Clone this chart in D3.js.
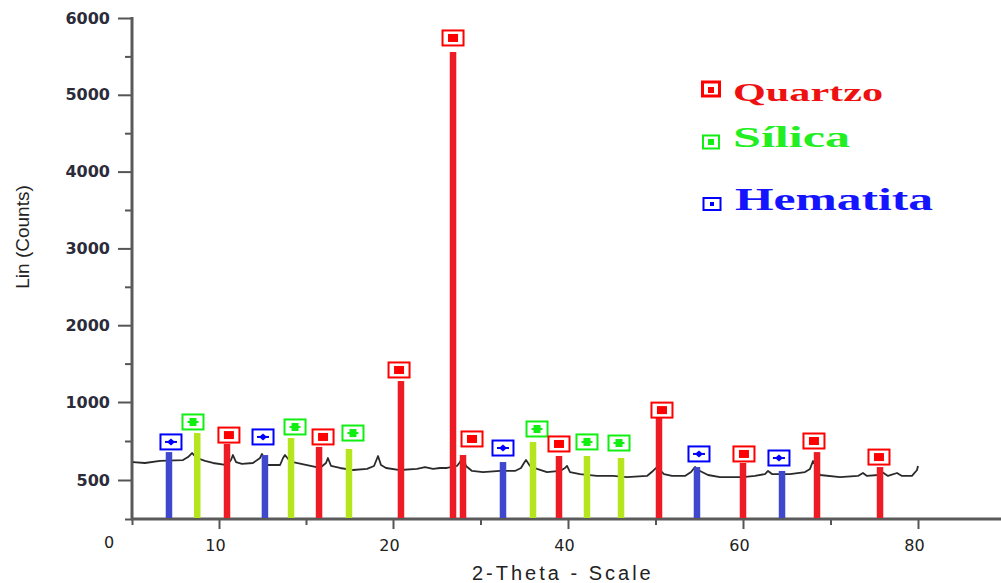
<!DOCTYPE html>
<html>
<head>
<meta charset="utf-8">
<script src="https://cdn.jsdelivr.net/npm/d3@7"></script>
<style>
  html, body { margin: 0; padding: 0; background: #fff; }
  svg { display: block; }
</style>
</head>
<body>
<svg id="chart" width="1001" height="583"></svg>
<script>
// phases found in the sample
var phases = ['Quartzo', 'Sílica', 'Hematita'];

// reference lines (2-theta, counts, phase index)
var peakTheta  = [4.25, 7.5, 10.46, 12.64, 14.14, 15.75, 17.47, 20.91, 26.86, 28.0, 32.57,
                  36.0, 38.97, 42.17, 46.06, 50.4, 54.74, 60.0, 64.46, 68.46, 75.66];
var peakCounts = [679, 801, 731, 660, 769, 712, 699, 1273, 5557, 660, 615,
                  744, 654, 654, 641, 917, 583, 609, 558, 679, 583];
var peakPhase  = [2, 1, 0, 2, 1, 0, 1, 0, 0, 0, 2,
                  1, 0, 1, 1, 0, 2, 0, 2, 0, 0];

// where each phase symbol sits
var markTheta  = [4.48, 7.01, 10.57, 12.53, 14.37, 15.98, 17.70, 20.69, 26.86, 29.03, 32.57,
                  36.46, 38.97, 42.17, 45.83, 50.74, 54.97, 60.11, 64.11, 68.11, 75.54];
var markCounts = [744, 872, 788, 776, 840, 776, 801, 1417, 5740, 763, 705,
                  827, 731, 744, 737, 948, 667, 667, 641, 750, 647];

// measured pattern
var scanTheta = [0.11, 1.49, 3.22, 5.86, 6.44, 6.90, 7.47, 8.39, 9.31, 10.46, 10.69, 10.80, 10.98,
  11.32, 11.95, 12.36, 12.47, 12.76, 13.51, 13.68, 13.79, 14.02, 14.25, 15.06, 15.80, 16.15, 16.26,
  16.44, 16.95, 17.70, 18.51, 18.91, 19.14, 19.31, 19.60, 20.80, 22.74, 23.66, 24.57, 25.37, 26.17,
  27.31, 27.66, 28.00, 28.34, 29.03, 30.29, 32.23, 33.94, 34.63, 34.97, 35.20, 35.66, 36.46, 37.60,
  39.09, 39.66, 39.89, 40.23, 41.37, 43.31, 45.14, 46.74, 49.03, 49.71, 50.17, 50.97, 51.89, 53.37,
  54.06, 54.51, 55.09, 56.0, 57.37, 60.0, 61.37, 62.51, 62.86, 63.31, 65.37, 67.09, 67.66, 68.0,
  68.34, 68.80, 71.09, 73.14, 73.71, 74.17, 75.43, 75.89, 76.57, 77.60, 78.17, 79.31, 79.89, 80.0];
var scanCounts = [615, 609, 622, 628, 647, 673, 641, 622, 609, 596, 628, 660, 615,
  603, 609, 641, 667, 596, 596, 641, 660, 628, 615, 596, 577, 609, 641,
  590, 577, 564, 571, 590, 654, 596, 577, 564, 571, 583, 571, 577, 577,
  590, 615, 654, 590, 558, 551, 558, 558, 577, 609, 628, 590, 571, 551,
  558, 577, 590, 551, 538, 526, 526, 519, 526, 558, 583, 538, 526, 526,
  551, 583, 558, 532, 519, 519, 526, 538, 558, 538, 538, 551, 571, 622,
  590, 532, 519, 526, 545, 526, 532, 551, 526, 545, 526, 526, 564, 590];

// axis ticks and labels
var xMajorTicks = [10, 20, 40, 60, 80];
var xMinorTicks = [0, 15, 30, 50, 70];
var yMajorTicks = [500, 1000, 2000, 3000, 4000, 5000, 6000];
var yMinorTicks = [0, 750, 1500, 2500, 3500, 4500, 5500];

(function () {
  'use strict';

  var width = 1001;
  var svg = d3.select('#chart');
  var xScale, yScale, lineFun;

  var barColors  = ['#ed1c24', '#b5e61d', '#3f48cc'];
  var markColors = ['#ff0000', '#11ee11', '#0000ff'];
  var textColors = ['#ee1111', '#22ee22', '#1414ff'];

  function setChartParameters() {
    // the printed axis is not evenly spaced, so piecewise scales
    xScale = d3.scaleLinear()
      .domain([0, 10, 20, 80])
      .range([132, 219, 393, 918]);

    yScale = d3.scaleLinear()
      .domain([0, 500, 1000, 6000])
      .range([519, 480, 402, 18]);

    lineFun = d3.line()
      .x(function (d) { return xScale(d[0]); })
      .y(function (d) { return yScale(d[1]); });
  }

  function drawAxes() {
    var x0 = xScale(0), y0 = yScale(0);

    var yMajor = svg.append('g')
      .attr('transform', 'translate(' + x0 + ',0)')
      .call(d3.axisLeft(yScale).tickValues(yMajorTicks).tickFormat(d3.format('d'))
        .tickSize(14).tickSizeOuter(0).tickPadding(8));
    var yMinor = svg.append('g')
      .attr('transform', 'translate(' + x0 + ',0)')
      .call(d3.axisLeft(yScale).tickValues(yMinorTicks).tickSize(7).tickSizeOuter(0).tickFormat(''));

    var xMajor = svg.append('g')
      .attr('transform', 'translate(0,' + y0 + ')')
      .call(d3.axisBottom(xScale).tickValues(xMajorTicks).tickFormat(d3.format('d'))
        .tickSize(10).tickSizeOuter(0).tickPadding(11));
    var xMinor = svg.append('g')
      .attr('transform', 'translate(0,' + y0 + ')')
      .call(d3.axisBottom(xScale).tickValues(xMinorTicks).tickSize(6).tickSizeOuter(0).tickFormat(''));

    [yMajor, yMinor, xMajor, xMinor].forEach(function (g) {
      g.selectAll('.tick line').attr('stroke', '#555').attr('stroke-width', 2);
      g.select('.domain').remove();
    });

    yMajor.selectAll('text')
      .attr('fill', '#2b2b3a')
      .style('font', 'bold 16px "DejaVu Sans"');
    xMajor.selectAll('text')
      .attr('fill', '#222')
      .attr('dx', -4)
      .style('font', '16px "DejaVu Sans"');

    // axis lines
    svg.append('line')
      .attr('x1', x0).attr('x2', x0)
      .attr('y1', yScale(6000) - 1).attr('y2', y0)
      .attr('stroke', '#5a5a5a').attr('stroke-width', 3);
    svg.append('line')
      .attr('x1', x0 - 1).attr('x2', width)
      .attr('y1', y0).attr('y2', y0)
      .attr('stroke', '#5a5a5a').attr('stroke-width', 3);

    // shared origin label
    svg.append('text')
      .attr('x', x0 - 23).attr('y', y0 + 29)
      .attr('text-anchor', 'middle')
      .attr('fill', '#222')
      .style('font', '16px "DejaVu Sans"')
      .text('0');

    svg.append('text')
      .attr('x', 472).attr('y', 580)
      .attr('fill', '#222')
      .style('font', '20px "Liberation Sans"')
      .style('letter-spacing', '3px')
      .text('2-Theta - Scale');

    svg.append('text')
      .attr('transform', 'translate(29,237) rotate(-90)')
      .attr('text-anchor', 'middle')
      .attr('fill', '#222')
      .style('font', '19px "Liberation Sans"')
      .text('Lin (Counts)');
  }

  function drawSymbol(g, phase, color) {
    if (phase === 0) {
      g.append('rect').attr('x', -5).attr('y', -4).attr('width', 10).attr('height', 8).attr('fill', color);
    } else if (phase === 1) {
      g.append('rect').attr('x', -3.5).attr('y', -4).attr('width', 7).attr('height', 8).attr('fill', color);
      g.append('line').attr('x1', -5.5).attr('x2', 5.5).attr('y1', 0).attr('y2', 0)
        .attr('stroke', color).attr('stroke-width', 2);
    } else {
      g.append('path').attr('d', 'M0,-3.5L4,0L0,3.5L-4,0Z').attr('fill', color);
      g.append('line').attr('x1', -6).attr('x2', 6).attr('y1', 0).attr('y2', 0)
        .attr('stroke', color).attr('stroke-width', 2);
    }
  }

  function drawChart() {
    var scan = scanTheta.map(function (t, i) { return [t, scanCounts[i]]; });

    svg.append('path')
      .datum(scan)
      .attr('d', lineFun)
      .attr('fill', 'none')
      .attr('stroke', '#2a2a2a')
      .attr('stroke-width', 1.8)
      .attr('stroke-linejoin', 'round');

    var peaks = peakTheta.map(function (t, i) {
      return { theta: t, counts: peakCounts[i], phase: peakPhase[i], mt: markTheta[i], mc: markCounts[i] };
    });

    svg.append('g').selectAll('rect')
      .data(peaks)
      .enter().append('rect')
      .attr('x', function (d) { return xScale(d.theta) - 3.25; })
      .attr('width', 6.5)
      .attr('y', function (d) { return yScale(d.counts); })
      .attr('height', function (d) { return yScale(0) - yScale(d.counts) - 1; })
      .attr('fill', function (d) { return barColors[d.phase]; });

    var marks = svg.append('g').selectAll('g')
      .data(peaks)
      .enter().append('g')
      .attr('transform', function (d) { return 'translate(' + xScale(d.mt) + ',' + yScale(d.mc) + ')'; });

    marks.append('rect')
      .attr('x', -10.5).attr('y', -7.5).attr('width', 21).attr('height', 15)
      .attr('fill', '#fff')
      .attr('stroke', function (d) { return markColors[d.phase]; })
      .attr('stroke-width', 2);

    marks.each(function (d) { drawSymbol(d3.select(this), d.phase, markColors[d.phase]); });
  }

  function drawLegend() {
    var rows = [
      { cx: 711, cy: 89,  w: 17, h: 14, base: 101, size: 26, len: 150 },
      { cx: 711, cy: 142, w: 16, h: 13, base: 147, size: 29, len: 117 },
      { cx: 712, cy: 204, w: 17, h: 12, base: 210, size: 32, len: 198 }
    ];

    rows.forEach(function (r, i) {
      var c = markColors[i];
      svg.append('rect')
        .attr('x', r.cx - r.w / 2).attr('y', r.cy - r.h / 2)
        .attr('width', r.w).attr('height', r.h)
        .attr('fill', '#fff').attr('stroke', c).attr('stroke-width', i === 0 ? 3 : 2);
      var inner = i === 0 ? 6 : (i === 1 ? 6 : 4);
      svg.append('rect')
        .attr('x', r.cx - inner / 2).attr('y', r.cy - inner / 2 + (i === 0 ? 1 : 0))
        .attr('width', inner).attr('height', inner)
        .attr('fill', c);

      svg.append('text')
        .attr('x', i === 2 ? 735 : 733).attr('y', r.base)
        .attr('fill', textColors[i])
        .attr('textLength', r.len)
        .attr('lengthAdjust', 'spacingAndGlyphs')
        .style('font', 'bold ' + r.size + 'px "Liberation Serif"')
        .text(phases[i]);
    });
  }

  setChartParameters();
  drawAxes();
  drawChart();
  drawLegend();
})();
</script>
</body>
</html>
